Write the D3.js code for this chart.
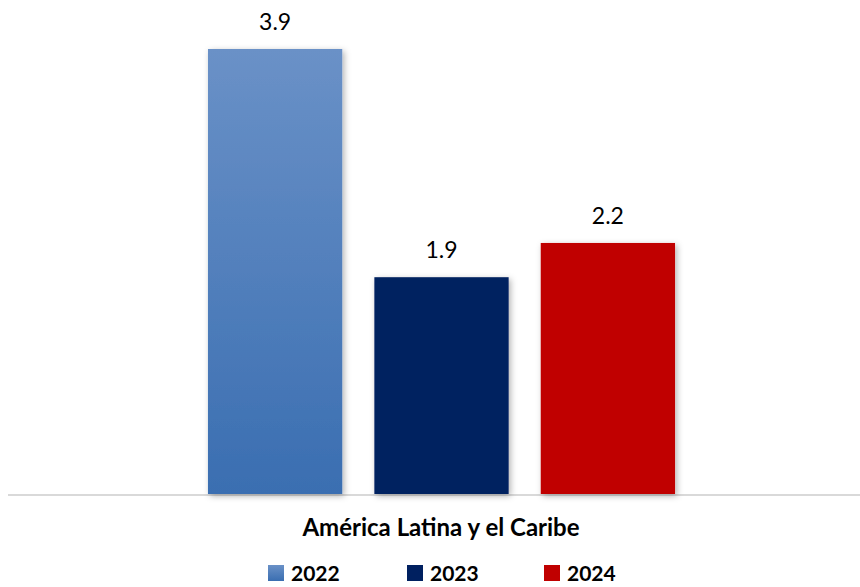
<!DOCTYPE html>
<html>
<head>
<meta charset="utf-8">
<script src="https://cdn.jsdelivr.net/npm/d3@7"></script>
<style>
  body { margin: 0; background: #fff; }
  svg { display: block; font-family: Lato, "Open Sans", sans-serif; }
</style>
</head>
<body>
<div id="chart"></div>
<script>
const category = 'América Latina y el Caribe';
const years = ['2022', '2023', '2024'];
const values = [3.9, 1.9, 2.2];
const labels = ['3.9', '1.9', '2.2'];

const width = 860, height = 587;

const svg = d3.select('#chart').append('svg')
  .attr('width', width)
  .attr('height', height);

const defs = svg.append('defs');

// blue gradient for 2022
const grad = defs.append('linearGradient')
  .attr('id', 'blueGrad')
  .attr('x1', 0).attr('y1', 0).attr('x2', 0).attr('y2', 1);
grad.append('stop').attr('offset', '0%').attr('stop-color', '#6a91c7');
grad.append('stop').attr('offset', '100%').attr('stop-color', '#3a6eb1');

const shadow = defs.append('filter')
  .attr('id', 'shadow')
  .attr('x', '-10%').attr('y', '-10%').attr('width', '120%').attr('height', '120%');
shadow.append('feDropShadow')
  .attr('dx', 2).attr('dy', 2).attr('stdDeviation', 3)
  .attr('flood-color', '#000').attr('flood-opacity', 0.3);

const colors = {
  '2022': 'url(#blueGrad)',
  '2023': '#002060',
  '2024': '#c00000'
};

const x = d3.scaleBand()
  .domain(years)
  .range([192, 691])
  .paddingInner(0.193)
  .paddingOuter(0.096);

const y = d3.scaleLinear()
  .domain([0, 3.9])
  .range([494, 49]);

const data = years.map((yr, i) => ({year: yr, value: values[i], label: labels[i]}));

// baseline
svg.append('line')
  .attr('x1', 8).attr('x2', 860)
  .attr('y1', y(0) + 1).attr('y2', y(0) + 1)
  .attr('stroke', '#d9d9d9')
  .attr('stroke-width', 2);

svg.selectAll('rect.bar')
  .data(data)
  .enter()
  .append('rect')
  .attr('class', 'bar')
  .attr('x', d => x(d.year))
  .attr('y', d => y(d.value))
  .attr('width', x.bandwidth())
  .attr('height', d => y(0) - y(d.value))
  .attr('fill', d => colors[d.year])
  .attr('filter', 'url(#shadow)');

svg.selectAll('text.val')
  .data(data)
  .enter()
  .append('text')
  .attr('class', 'val')
  .attr('x', d => x(d.year) + x.bandwidth() / 2)
  .attr('y', d => y(d.value) - 19)
  .attr('text-anchor', 'middle')
  .attr('font-size', 23)
  .attr('fill', '#000')
  .text(d => d.label);

svg.append('text')
  .attr('x', 441)
  .attr('y', 536)
  .attr('text-anchor', 'middle')
  .attr('font-size', 24)
  .attr('font-weight', 'bold')
  .attr('fill', '#000')
  .text(category);

// legend
const legendX = [268, 407, 544];
const legend = svg.selectAll('g.legend')
  .data(data)
  .enter()
  .append('g')
  .attr('class', 'legend')
  .attr('transform', (d, i) => `translate(${legendX[i]}, 565)`);

legend.append('rect')
  .attr('width', 16)
  .attr('height', 16)
  .attr('fill', d => colors[d.year]);

legend.append('text')
  .attr('x', 23)
  .attr('y', 16)
  .attr('font-size', 21)
  .attr('font-weight', 'bold')
  .attr('fill', '#000')
  .text(d => d.year);
</script>
</body>
</html>
